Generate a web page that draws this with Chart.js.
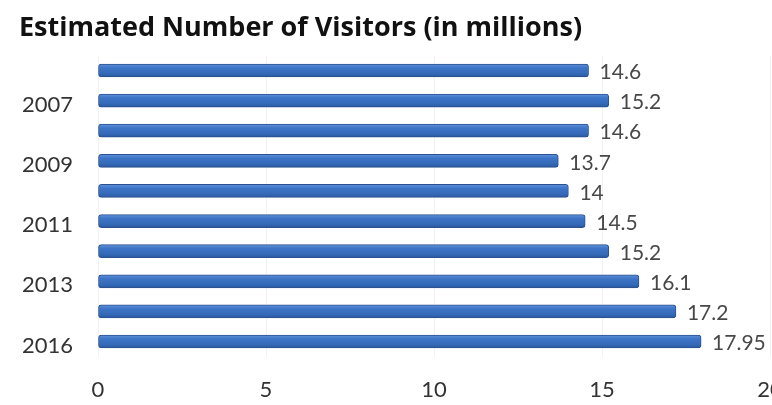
<!DOCTYPE html>
<html>
<head>
<meta charset="utf-8">
<script src="https://cdn.jsdelivr.net/npm/chart.js@4"></script>
<style>
  html, body { margin: 0; padding: 0; background: #ffffff; }
  #wrap { width: 772px; height: 405px; }
</style>
</head>
<body>
<div id="wrap"><canvas id="chart" width="772" height="405"></canvas></div>
<script>
// Visitor counts per year, in millions
const years = ['2006', '2007', '2008', '2009', '2010', '2011', '2012', '2013', '2015', '2016'];
const visitors = [14.6, 15.2, 14.6, 13.7, 14, 14.5, 15.2, 16.1, 17.2, 17.95];
const xTicks = [0, 5, 10, 15, 20];
const chartTitle = 'Estimated Number of Visitors (in millions)';

const tickFont = { family: 'Lato', size: 22 };
const xTickPadding = 20;

// Gives each bar its own light-to-dark vertical shading
const barShading = {
  id: 'barShading',
  beforeDatasetsDraw(chart) {
    const ctx = chart.ctx;
    chart.getDatasetMeta(0).data.forEach(bar => {
      const half = bar.height / 2;
      const g = ctx.createLinearGradient(0, bar.y - half, 0, bar.y + half);
      g.addColorStop(0, '#5f92da');
      g.addColorStop(0.3, '#3e74c6');
      g.addColorStop(0.75, '#3469b8');
      g.addColorStop(1, '#2a579c');
      bar.options = Object.assign({}, bar.options, { backgroundColor: g });
    });
  }
};

// Writes each bar's value just past its end
const valueLabels = {
  id: 'valueLabels',
  afterDatasetsDraw(chart) {
    const ctx = chart.ctx;
    const meta = chart.getDatasetMeta(0);
    ctx.save();
    ctx.font = '21px Lato';
    ctx.fillStyle = '#484848';
    ctx.textAlign = 'left';
    ctx.textBaseline = 'middle';
    meta.data.forEach((bar, i) => {
      ctx.fillText(String(visitors[i]), bar.x + 11, bar.y + 2);
    });
    ctx.restore();
  }
};

new Chart(document.getElementById('chart'), {
  type: 'bar',
  data: {
    labels: years,
    datasets: [{
      data: visitors,
      backgroundColor: () => '#3a6ec0',
      borderColor: '#2b5190',
      borderWidth: 1,
      borderRadius: 3,
      borderSkipped: false,
      barThickness: 13
    }]
  },
  options: {
    indexAxis: 'y',
    responsive: false,
    animation: false,
    layout: { padding: { left: 19, right: 2, top: 0, bottom: 2 } },
    plugins: {
      legend: { display: false },
      tooltip: { enabled: false },
      title: {
        display: true,
        text: chartTitle,
        align: 'start',
        color: '#111111',
        font: { family: 'Open Sans', size: 27, weight: 'bold' },
        padding: { top: 12, bottom: 11 }
      }
    },
    scales: {
      x: {
        min: 0,
        max: 20,
        afterBuildTicks(scale) { scale.ticks = xTicks.map(v => ({ value: v })); },
        afterFit(scale) {
          scale.paddingRight = 0;
          scale.paddingLeft = 0;
          // padding above the labels only, none below
          scale.height = xTickPadding + tickFont.size * 1.2;
        },
        grid: { color: 'rgba(0,0,0,0.05)', drawTicks: false },
        border: { display: false },
        ticks: { color: '#333333', font: tickFont, padding: xTickPadding }
      },
      y: {
        afterFit(scale) {
          scale.width = 79;
          scale.paddingTop = 0;
          scale.paddingBottom = 0;
        },
        grid: { display: false, drawTicks: false },
        border: { display: false },
        ticks: {
          autoSkip: false,
          color: '#333333',
          font: tickFont,
          padding: 25,
          labelOffset: 4,
          callback(value, index) { return index % 2 === 1 ? years[index] : ''; }
        }
      }
    }
  },
  plugins: [barShading, valueLabels]
});
</script>
</body>
</html>
